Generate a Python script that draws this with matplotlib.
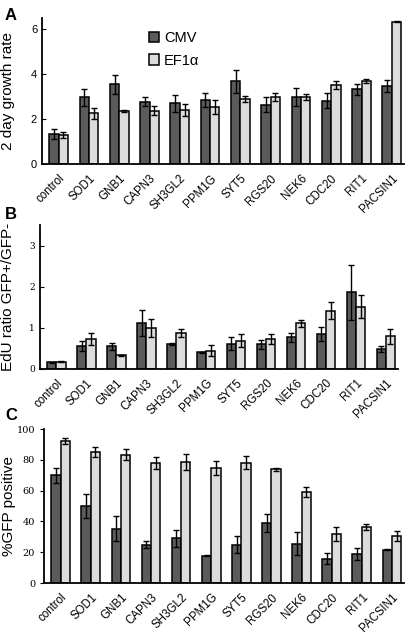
import numpy as np
import matplotlib
matplotlib.use("Agg")
import matplotlib.pyplot as plt

plt.rcParams["font.family"] = ["Liberation Sans", "DejaVu Sans"]

# gene list (same order in every panel)
genes = ["control", "SOD1", "GNB1", "CAPN3", "SH3GL2", "PPM1G", "SYT5",
         "RGS20", "NEK6", "CDC20", "RIT1", "PACSIN1"]

# A - 2 day growth rate
growth_cmv = [1.34, 2.96, 3.55, 2.78, 2.70, 2.85, 3.68, 2.63, 2.97, 2.82, 3.33, 3.48]
growth_cmv_err = [0.24, 0.37, 0.42, 0.22, 0.38, 0.30, 0.50, 0.33, 0.40, 0.32, 0.25, 0.27]
growth_ef1 = [1.29, 2.26, 2.36, 2.38, 2.41, 2.53, 2.90, 2.97, 2.97, 3.52, 3.70, 6.33]
growth_ef1_err = [0.12, 0.25, 0.06, 0.21, 0.27, 0.32, 0.13, 0.18, 0.13, 0.19, 0.09, 0.02]

# B - EdU ratio
edu_cmv = [0.16, 0.55, 0.55, 1.11, 0.60, 0.40, 0.61, 0.60, 0.77, 0.84, 1.87, 0.49]
edu_cmv_err = [0.01, 0.12, 0.08, 0.32, 0.02, 0.02, 0.16, 0.11, 0.11, 0.17, 0.67, 0.07]
edu_ef1 = [0.17, 0.73, 0.33, 1.00, 0.87, 0.44, 0.69, 0.72, 1.11, 1.42, 1.51, 0.79]
edu_ef1_err = [0.01, 0.14, 0.01, 0.22, 0.09, 0.13, 0.16, 0.12, 0.08, 0.21, 0.28, 0.19]

# C - %GFP positive
gfp_cmv = [70, 50, 35.4, 25, 29, 17.6, 25, 39, 25.6, 15.8, 19, 21.7]
gfp_cmv_err = [5, 8, 8, 2.5, 5.7, 0.3, 5.4, 6, 7.6, 3.7, 4, 0.5]
gfp_ef1 = [92.4, 85.2, 83.5, 78, 78.5, 74.8, 78.3, 74, 59.2, 31.7, 36.4, 30.6]
gfp_ef1_err = [2, 3.3, 3.3, 4, 5.2, 4.4, 4.1, 1, 3.3, 4.7, 2.2, 3]

dark = "#5b5b5b"
light = "#dcdcdc"
w = 0.31
x = np.arange(len(genes))

fig = plt.figure(figsize=(4.08, 6.36), dpi=100)

def panel(rect, cmv, cmv_err, ef1, ef1_err, ylim, yticks, ylabel, tickdir,
          tickfont, ticksize, labelx):
    ax = fig.add_axes(rect)
    ax.bar(x - w / 2, cmv, w, color=dark, edgecolor="black", linewidth=1.1,
           yerr=cmv_err, capsize=2.5, error_kw=dict(elinewidth=1, capthick=1),
           label="CMV")
    ax.bar(x + w / 2, ef1, w, color=light, edgecolor="black", linewidth=1.1,
           yerr=ef1_err, capsize=2.5, error_kw=dict(elinewidth=1, capthick=1),
           label="EF1\u03b1")
    ax.set_xlim(-0.55, 11.4)
    ax.set_ylim(*ylim)
    ax.set_yticks(yticks)
    ax.set_xticks(x)
    ax.set_xticklabels(genes, rotation=45, ha="right", rotation_mode="anchor",
                       fontsize=8.3)
    ax.tick_params(axis="x", length=0, pad=6)
    ax.tick_params(axis="y", direction=tickdir, length=3, labelsize=ticksize)
    for t in ax.get_yticklabels():
        t.set_family(tickfont)
    ax.spines["top"].set_visible(False)
    ax.spines["right"].set_visible(False)
    ax.spines["left"].set_linewidth(1.3)
    ax.spines["bottom"].set_linewidth(1.3)
    ax.set_ylabel(ylabel, fontsize=11)
    ax.yaxis.set_label_coords(labelx, 0.5)
    return ax

axA = panel([0.103, 0.742, 0.887, 0.230], growth_cmv, growth_cmv_err,
            growth_ef1, growth_ef1_err, (0, 6.5), [0, 2, 4, 6],
            "2 day growth rate", "in", "Liberation Sans", 8, -0.075)
axA.legend(loc="upper left", bbox_to_anchor=(0.26, 1.0), frameon=False,
           fontsize=10.5, handlelength=0.7, handleheight=0.7, handletextpad=0.3,
           labelspacing=0.6)

axB = panel([0.098, 0.420, 0.877, 0.226], edu_cmv, edu_cmv_err,
            edu_ef1, edu_ef1_err, (0, 3.5), [0, 1, 2, 3],
            "EdU ratio GFP+/GFP-", "in", "DejaVu Serif", 6.5, -0.07)

axC = panel([0.108, 0.0833, 0.882, 0.242], gfp_cmv, gfp_cmv_err,
            gfp_ef1, gfp_ef1_err, (0, 100), [0, 20, 40, 60, 80, 100],
            "%GFP positive", "out", "DejaVu Serif", 7, -0.078)

fig.text(0.012, 0.975, "A", fontsize=12, fontweight="bold", va="center")
fig.text(0.012, 0.662, "B", fontsize=12, fontweight="bold", va="center")
fig.text(0.012, 0.347, "C", fontsize=12, fontweight="bold", va="center")

fig.savefig("out.png", dpi=100)
